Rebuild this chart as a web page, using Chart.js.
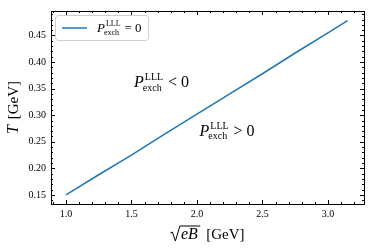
<!DOCTYPE html>
<html><head><meta charset="utf-8">
<script src="https://cdn.jsdelivr.net/npm/chart.js@4/dist/chart.umd.min.js"></script>
<style>html,body{margin:0;padding:0;background:#fff}#wrap{width:374px;height:249px}</style>
</head><body><div id="wrap"><canvas id="c" width="374" height="249"></canvas></div>
<script>
const sqrtEB = [1.00, 1.25, 1.50, 1.75, 2.00, 2.25, 2.50, 2.75, 3.00, 3.15];
const T      = [0.150, 0.188, 0.225, 0.264, 0.302, 0.340, 0.378, 0.417, 0.455, 0.478];
const xTicks = [1.0, 1.5, 2.0, 2.5, 3.0];
const yTicks = [0.15, 0.20, 0.25, 0.30, 0.35, 0.40, 0.45];
const seriesLabel = 'P^LLL_exch = 0';
const regionLabels = [{rel: '<', x: 1.52, y: 0.353}, {rel: '>', x: 2.02, y: 0.261}];

const SERIF = '"Liberation Serif", "DejaVu Serif", serif';

function drawP(ctx, x, y, size, rel) {
  ctx.textBaseline = 'alphabetic';
  ctx.textAlign = 'left';
  ctx.font = 'italic ' + size + 'px ' + SERIF;
  ctx.fillText('P', x, y);
  const wP = ctx.measureText('P').width;
  const s = Math.round(size * 0.64);
  ctx.font = s + 'px ' + SERIF;
  ctx.fillText('LLL', x + wP + 1, y - size * 0.45);
  ctx.fillText('exch', x + wP - 1, y + size * 0.22);
  const w2 = Math.max(ctx.measureText('LLL').width + 1, ctx.measureText('exch').width - 1);
  ctx.font = size + 'px ' + SERIF;
  let cx = x + wP + w2 + size * 0.3;
  ctx.fillText(rel, cx, y);
  cx += ctx.measureText(rel).width + size * 0.25;
  ctx.fillText('0', cx, y);
}

const deco = {
  id: 'deco',
  afterDraw(chart) {
    const ctx = chart.ctx, a = chart.chartArea;
    const xs = chart.scales.x, ys = chart.scales.y;
    ctx.save();
    ctx.strokeStyle = '#000';
    ctx.lineWidth = 1;
    ctx.beginPath();
    for (let i = 9; i <= 32; i++) {
      const v = i / 10, px = Math.round(xs.getPixelForValue(v)) + 0.5;
      if (px < a.left || px > a.right) continue;
      const L = (i % 5 === 0) ? 4 : 2;
      ctx.moveTo(px, a.bottom); ctx.lineTo(px, a.bottom - L);
      ctx.moveTo(px, a.top); ctx.lineTo(px, a.top + L);
    }
    for (let i = 14; i <= 49; i++) {
      const v = i / 100, py = Math.round(ys.getPixelForValue(v)) + 0.5;
      if (py < a.top || py > a.bottom) continue;
      const L = (i % 5 === 0) ? 4 : 2;
      ctx.moveTo(a.left, py); ctx.lineTo(a.left + L, py);
      ctx.moveTo(a.right, py); ctx.lineTo(a.right - L, py);
    }
    ctx.stroke();
    ctx.strokeRect(Math.round(a.left) + 0.5, Math.round(a.top) + 0.5,
                   Math.round(a.right - a.left), Math.round(a.bottom - a.top));

    ctx.fillStyle = '#000';
    regionLabels.forEach(r => {
      drawP(ctx, xs.getPixelForValue(r.x), ys.getPixelForValue(r.y), 16, r.rel);
    });

    // legend
    const lx = a.left + 4, ly = a.top + 4;
    ctx.beginPath();
    ctx.roundRect(lx + 0.5, ly + 0.5, 93, 25, 3);
    ctx.fillStyle = 'rgba(255,255,255,0.8)';
    ctx.fill();
    ctx.strokeStyle = '#d0d0d0';
    ctx.stroke();
    ctx.strokeStyle = '#1f77b4';
    ctx.lineWidth = 1.5;
    ctx.beginPath();
    ctx.moveTo(lx + 7, ly + 13); ctx.lineTo(lx + 32, ly + 13);
    ctx.stroke();
    ctx.fillStyle = '#000';
    drawP(ctx, lx + 42, ly + 17, 13, '=');

    // x title: sqrt(eB) [GeV]
    ctx.font = 'italic 16px ' + SERIF;
    const wEB = ctx.measureText('eB').width + 2;
    ctx.font = '15px ' + SERIF;
    const wG = ctx.measureText('[GeV]').width;
    const gap = 7;
    const total = 10 + wEB + gap + wG;
    const cx = (a.left + a.right) / 2;
    let x0 = cx - total / 2;
    const by = 239;
    ctx.strokeStyle = '#000';
    ctx.lineWidth = 1;
    ctx.beginPath();
    ctx.moveTo(x0, by - 6); ctx.lineTo(x0 + 2, by - 7);
    ctx.lineTo(x0 + 5, by + 2); ctx.lineTo(x0 + 9.5, by - 13);
    ctx.lineTo(x0 + 10 + wEB + 1, by - 13);
    ctx.stroke();
    ctx.font = 'italic 16px ' + SERIF;
    ctx.fillText('eB', x0 + 10.5, by);
    ctx.font = '15px ' + SERIF;
    ctx.fillText('[GeV]', x0 + 10 + wEB + gap, by);

    // y title
    ctx.save();
    ctx.translate(18, (a.top + a.bottom) / 2);
    ctx.rotate(-Math.PI / 2);
    ctx.font = 'italic 16px ' + SERIF;
    const wT = ctx.measureText('T').width;
    ctx.font = '15px ' + SERIF;
    const wY = ctx.measureText('[GeV]').width;
    const g2 = 6;
    const sx = -(wT + g2 + wY) / 2;
    ctx.font = 'italic 16px ' + SERIF;
    ctx.fillText('T', sx, 0);
    ctx.font = '15px ' + SERIF;
    ctx.fillText('[GeV]', sx + wT + g2, 0);
    ctx.restore();

    ctx.restore();
  }
};

new Chart(document.getElementById('c'), {
  type: 'line',
  data: {
    datasets: [{
      label: seriesLabel,
      data: sqrtEB.map((v, i) => ({x: v, y: T[i]})),
      borderColor: '#1f77b4',
      borderWidth: 1.5,
      pointRadius: 0,
      fill: false,
      tension: 0
    }]
  },
  options: {
    responsive: false,
    devicePixelRatio: 1,
    animation: false,
    layout: {padding: {left: 0, top: 8, right: 10, bottom: 0}},
    plugins: {legend: {display: false}, tooltip: {enabled: false}},
    scales: {
      x: {
        type: 'linear', min: 0.886, max: 3.275,
        afterBuildTicks: s => { s.ticks = xTicks.map(v => ({value: v})); },
        ticks: {callback: v => v.toFixed(1), color: '#000', padding: 4, maxRotation: 0, autoSkip: false,
                font: {family: SERIF, size: 10}},
        grid: {display: false, drawTicks: false},
        border: {display: false},
        afterFit: s => { s.height = 45; }
      },
      y: {
        type: 'linear', min: 0.133, max: 0.496,
        afterBuildTicks: s => { s.ticks = yTicks.map(v => ({value: v})); },
        ticks: {callback: v => v.toFixed(2), color: '#000', padding: 5, autoSkip: false,
                font: {family: SERIF, size: 10}},
        grid: {display: false, drawTicks: false},
        border: {display: false},
        afterFit: s => { s.width = 51; }
      }
    }
  },
  plugins: [deco]
});
</script>
</body></html>
